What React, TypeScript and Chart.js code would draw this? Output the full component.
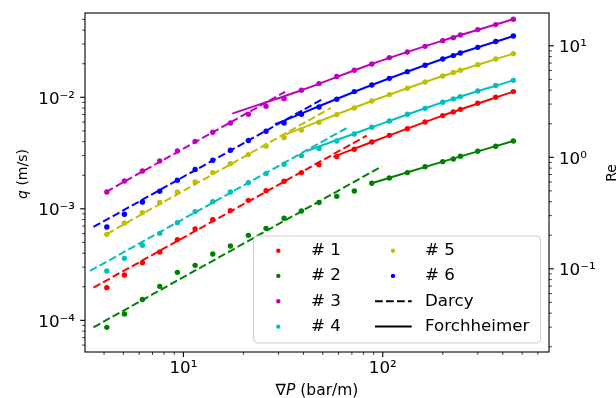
import { useEffect, useRef } from 'react';
import { Chart, registerables } from 'chart.js';
Chart.register(...registerables);

// ---- data ----
const gradP = [4.13, 5.06, 6.23, 7.61, 9.33, 11.45, 14.04, 17.21, 21.18, 25.98, 31.99, 39.07, 47.9, 58.8, 72.0, 88.1, 107.9, 132.9, 163.0, 199.9, 225.9, 245.1, 299.5, 368.7, 451.9];

const q1 = [1.963e-4, 2.547e-4, 3.289e-4, 4.102e-4, 5.297e-4, 6.592e-4, 7.998e-4, 9.638e-4, 1.191e-3, 1.455e-3, 1.766e-3, 2.113e-3, 2.489e-3, 2.938e-3, 3.42e-3, 3.972e-3, 4.56e-3, 5.236e-3, 6.012e-3, 6.855e-3, 7.396e-3, 7.798e-3, 8.831e-3, 1.0e-2, 1.125e-2];
const q2 = [8.65e-5, 1.14e-4, 1.535e-4, 2.018e-4, 2.692e-4, 3.112e-4, 3.936e-4, 4.634e-4, 5.781e-4, 6.683e-4, 8.222e-4, 9.572e-4, 1.138e-3, 1.294e-3, 1.445e-3, 1.694e-3, 1.888e-3, 2.113e-3, 2.388e-3, 2.649e-3, 2.799e-3, 2.958e-3, 3.281e-3, 3.639e-3, 4.055e-3];
const q3 = [1.416e-3, 1.774e-3, 2.183e-3, 2.685e-3, 3.304e-3, 4.027e-3, 4.853e-3, 5.888e-3, 7.047e-3, 8.299e-3, 9.727e-3, 1.156e-2, 1.327e-2, 1.535e-2, 1.746e-2, 1.991e-2, 2.27e-2, 2.547e-2, 2.864e-2, 3.221e-2, 3.428e-2, 3.622e-2, 4.046e-2, 4.487e-2, 5.012e-2];
const q4 = [2.773e-4, 3.597e-4, 4.71e-4, 6.026e-4, 7.516e-4, 9.441e-4, 1.161e-3, 1.416e-3, 1.718e-3, 2.07e-3, 2.506e-3, 2.999e-3, 3.467e-3, 4.055e-3, 4.688e-3, 5.383e-3, 6.124e-3, 7.047e-3, 7.962e-3, 9.016e-3, 9.661e-3, 1.014e-2, 1.138e-2, 1.274e-2, 1.419e-2];
const q5 = [5.902e-4, 7.464e-4, 9.247e-4, 1.138e-3, 1.416e-3, 1.738e-3, 2.113e-3, 2.541e-3, 3.062e-3, 3.656e-3, 4.355e-3, 5.093e-3, 5.97e-3, 6.998e-3, 8.017e-3, 9.268e-3, 1.057e-2, 1.205e-2, 1.371e-2, 1.552e-2, 1.667e-2, 1.746e-2, 1.963e-2, 2.208e-2, 2.466e-2];
const q6 = [6.871e-4, 8.933e-4, 1.151e-3, 1.435e-3, 1.803e-3, 2.249e-3, 2.723e-3, 3.35e-3, 4.093e-3, 4.955e-3, 5.888e-3, 7.047e-3, 8.185e-3, 9.594e-3, 1.125e-2, 1.288e-2, 1.479e-2, 1.698e-2, 1.936e-2, 2.208e-2, 2.366e-2, 2.495e-2, 2.805e-2, 3.162e-2, 3.548e-2];

// Darcy fits (end points)
const darcyX1 = [3.54, 83.1]; const darcyQ1 = [1.963e-4, 4.53e-3];
const darcyX2 = [3.54, 98.9]; const darcyQ2 = [8.65e-5, 2.4e-3];
const darcyX3 = [4.1, 32.4]; const darcyQ3 = [1.42e-3, 1.12e-2];
const darcyX4 = [3.4, 66.0]; const darcyQ4 = [2.77e-4, 5.31e-3];
const darcyX5 = [4.14, 54.8]; const darcyQ5 = [5.97e-4, 8.02e-3];
const darcyX6 = [3.54, 49.4]; const darcyQ6 = [6.87e-4, 9.53e-3];

// Forchheimer fits (points along the curves)
const forchX1 = [56.5, 88.1, 199.9, 451.9]; const forchQ1 = [2.92e-3, 3.972e-3, 6.855e-3, 1.125e-2];
const forchX2 = [88.1, 199.9, 451.9]; const forchQ2 = [1.694e-3, 2.649e-3, 4.055e-3];
const forchX3 = [17.6, 39.07, 88.1, 199.9, 451.9]; const forchQ3 = [7.14e-3, 1.156e-2, 1.991e-2, 3.221e-2, 5.012e-2];
const forchX4 = [41.6, 88.1, 199.9, 451.9]; const forchQ4 = [3.3e-3, 5.383e-3, 9.016e-3, 1.419e-2];
const forchX5 = [32.7, 88.1, 199.9, 451.9]; const forchQ5 = [4.66e-3, 9.268e-3, 1.552e-2, 2.466e-2];
const forchX6 = [28.8, 88.1, 199.9, 451.9]; const forchQ6 = [5.73e-3, 1.288e-2, 2.208e-2, 3.548e-2];

const seriesLabels = ['# 1', '# 2', '# 3', '# 4', '# 5', '# 6'];
const seriesColors = ['#ff0000', '#008000', '#bf00bf', '#00bfbf', '#bfbf00', '#0000ff'];

const X_MIN = 3.21, X_MAX = 682;
const Q_MIN = 5.2e-5, Q_MAX = 0.057;
const RE_MIN = 0.01795, RE_MAX = 19.68;

const FONT = '"DejaVu Sans", sans-serif';
const SUP: Record<string, string> = { '-': '\u207B', '0': '\u2070', '1': '\u00B9', '2': '\u00B2', '3': '\u00B3', '4': '\u2074', '5': '\u2075', '6': '\u2076', '7': '\u2077', '8': '\u2078', '9': '\u2079' };

function isPow10(v: number) {
  const l = Math.log10(v);
  return Math.abs(l - Math.round(l)) < 1e-9;
}
function pow10Label(v: number) {
  if (!isPow10(v)) return '';
  const e = String(Math.round(Math.log10(v)));
  return '10' + e.split('').map((c) => SUP[c]).join('');
}
function logTicks(min: number, max: number) {
  const out: { value: number }[] = [];
  const e0 = Math.floor(Math.log10(min));
  const e1 = Math.ceil(Math.log10(max));
  for (let e = e0; e <= e1; e++) {
    for (let k = 1; k <= 9; k++) {
      const v = Number((k * Math.pow(10, e)).toPrecision(12));
      if (v >= min && v <= max) out.push({ value: v });
    }
  }
  return out;
}

function axisCommon(pad: number, labelOffset: number) {
  return {
    type: 'logarithmic' as const,
    grid: { display: true, drawOnChartArea: false, drawTicks: true, tickLength: 5, color: 'rgba(0,0,0,0)' },
    border: { display: false },
    ticks: {
      autoSkip: false, maxRotation: 0, minRotation: 0, padding: pad, labelOffset,
      color: '#000', font: { family: FONT, size: 16.7 },
      callback: (v: any) => pow10Label(Number(v)),
    },
    afterBuildTicks: (axis: any) => { axis.ticks = logTicks(axis.min, axis.max); },
  };
}

function drawRich(ctx: CanvasRenderingContext2D, segs: { t: string; it?: boolean }[], size: number, x: number, y: number, rotate: boolean) {
  ctx.save();
  ctx.translate(x, y);
  if (rotate) ctx.rotate(-Math.PI / 2);
  ctx.textBaseline = 'alphabetic';
  ctx.textAlign = 'left';
  ctx.fillStyle = '#000';
  const fonts = segs.map((s) => `${s.it ? 'italic ' : ''}${size}px ${FONT}`);
  const widths = segs.map((s, i) => { ctx.font = fonts[i]; return ctx.measureText(s.t).width; });
  const total = widths.reduce((a, b) => a + b, 0);
  let cx = -total / 2;
  segs.forEach((s, i) => { ctx.font = fonts[i]; ctx.fillText(s.t, cx, 0); cx += widths[i]; });
  ctx.restore();
}

const decorPlugin = {
  id: 'decor',
  afterDraw(chart: any) {
    const ctx: CanvasRenderingContext2D = chart.ctx;
    const a = chart.chartArea;
    ctx.save();
    // frame
    ctx.strokeStyle = '#000';
    ctx.lineWidth = 1.1;
    ctx.strokeRect(a.left, a.top, a.right - a.left, a.bottom - a.top);
    // tick marks
    const drawTicks = (scale: any, side: 'bottom' | 'left' | 'right') => {
      for (const t of scale.ticks) {
        const major = isPow10(t.value);
        const len = major ? 4.9 : 2.8;
        ctx.lineWidth = major ? 1.1 : 0.8;
        const p = scale.getPixelForValue(t.value);
        ctx.beginPath();
        if (side === 'bottom') { ctx.moveTo(p, a.bottom); ctx.lineTo(p, a.bottom + len); }
        else if (side === 'left') { ctx.moveTo(a.left, p); ctx.lineTo(a.left - len, p); }
        else { ctx.moveTo(a.right, p); ctx.lineTo(a.right + len, p); }
        ctx.stroke();
      }
    };
    drawTicks(chart.scales.x, 'bottom');
    drawTicks(chart.scales.y, 'left');
    drawTicks(chart.scales.y2, 'right');

    // legend
    const lx = 253.5, ly = 236, lw = 287, lh = 107, r = 4;
    ctx.beginPath();
    ctx.moveTo(lx + r, ly);
    ctx.lineTo(lx + lw - r, ly); ctx.arcTo(lx + lw, ly, lx + lw, ly + r, r);
    ctx.lineTo(lx + lw, ly + lh - r); ctx.arcTo(lx + lw, ly + lh, lx + lw - r, ly + lh, r);
    ctx.lineTo(lx + r, ly + lh); ctx.arcTo(lx, ly + lh, lx, ly + lh - r, r);
    ctx.lineTo(lx, ly + r); ctx.arcTo(lx, ly, lx + r, ly, r);
    ctx.closePath();
    ctx.fillStyle = 'rgba(255,255,255,0.8)';
    ctx.fill();
    ctx.strokeStyle = '#cccccc';
    ctx.lineWidth = 1;
    ctx.stroke();

    const rows = [250.7, 275.9, 301.2, 326.6];
    ctx.font = `16.7px ${FONT}`;
    ctx.textBaseline = 'middle';
    ctx.textAlign = 'left';
    const items: { label: string; color?: string; kind: 'dot' | 'dash' | 'solid' }[] = [
      ...seriesLabels.map((l, i) => ({ label: l, color: seriesColors[i], kind: 'dot' as const })),
      { label: 'Darcy', kind: 'dash' },
      { label: 'Forchheimer', kind: 'solid' },
    ];
    items.forEach((it, i) => {
      const col = i < 4 ? 0 : 1;
      const row = i % 4;
      const mx = col === 0 ? 278.3 : 393;
      const tx = col === 0 ? 311 : 425;
      const y = rows[row];
      if (it.kind === 'dot') {
        ctx.fillStyle = it.color!;
        ctx.beginPath(); ctx.arc(mx, y, 2.2, 0, Math.PI * 2); ctx.fill();
      } else {
        ctx.strokeStyle = '#000';
        ctx.lineWidth = 2;
        ctx.setLineDash(it.kind === 'dash' ? [7.7, 3.3] : []);
        ctx.beginPath(); ctx.moveTo(375, y); ctx.lineTo(411.7, y); ctx.stroke();
        ctx.setLineDash([]);
      }
      ctx.fillStyle = '#000';
      ctx.fillText(it.label, tx, y);
    });

    // axis titles
    drawRich(ctx, [{ t: '\u2207' }, { t: 'P', it: true }, { t: ' (bar/m)' }], 15.5, (a.left + a.right) / 2, 394.5, false);
    drawRich(ctx, [{ t: 'q', it: true }, { t: ' (m/s)' }], 14, 26.5, 174, true);
    drawRich(ctx, [{ t: 'Re' }], 14, 615.5, 173, true);
    ctx.restore();
  },
};

export default function App() {
  const ref = useRef<HTMLCanvasElement>(null);
  useEffect(() => {
    document.body.style.margin = '0';
    const canvas = ref.current!;
    const pts = [q1, q2, q3, q4, q5, q6].map((qs, i) => ({
      label: seriesLabels[i],
      data: gradP.map((x, j) => ({ x, y: qs[j] })),
      showLine: false,
      pointRadius: 2.7,
      pointBorderWidth: 0,
      pointBackgroundColor: seriesColors[i],
      borderColor: seriesColors[i],
      yAxisID: 'y',
    }));
    const darcy = [[darcyX1, darcyQ1], [darcyX2, darcyQ2], [darcyX3, darcyQ3], [darcyX4, darcyQ4], [darcyX5, darcyQ5], [darcyX6, darcyQ6]].map(([xs, qs], i) => ({
      label: 'Darcy ' + seriesLabels[i],
      data: xs.map((x, j) => ({ x, y: qs[j] })),
      showLine: true,
      pointRadius: 0,
      borderColor: seriesColors[i],
      borderWidth: 2,
      borderDash: [7.7, 3.3],
      fill: false,
      yAxisID: 'y',
    }));
    const forch = [[forchX1, forchQ1], [forchX2, forchQ2], [forchX3, forchQ3], [forchX4, forchQ4], [forchX5, forchQ5], [forchX6, forchQ6]].map(([xs, qs], i) => ({
      label: 'Forchheimer ' + seriesLabels[i],
      data: xs.map((x, j) => ({ x, y: qs[j] })),
      showLine: true,
      pointRadius: 0,
      borderColor: seriesColors[i],
      borderWidth: 2,
      cubicInterpolationMode: 'monotone' as const,
      fill: false,
      yAxisID: 'y',
    }));

    const chart = new Chart(canvas, {
      type: 'scatter',
      data: { datasets: [...pts, ...darcy, ...forch] as any },
      options: {
        responsive: false,
        animation: false,
        devicePixelRatio: 1,
        layout: { padding: { top: 13, left: 0, right: 0, bottom: 0 } },
        plugins: { legend: { display: false }, tooltip: { enabled: false } },
        scales: {
          x: {
            ...axisCommon(2, 0), position: 'bottom', min: X_MIN, max: X_MAX,
            afterFit: (s: any) => { s.height = 46; s.paddingLeft = 0; s.paddingRight = 0; },
          },
          y: {
            ...axisCommon(5, 2), position: 'left', min: Q_MIN, max: Q_MAX,
            afterFit: (s: any) => { s.width = 85; s.paddingTop = 0; s.paddingBottom = 0; },
          },
          y2: {
            ...axisCommon(5, 2), position: 'right', min: RE_MIN, max: RE_MAX,
            afterFit: (s: any) => { s.width = 67; s.paddingTop = 0; s.paddingBottom = 0; },
          },
        } as any,
      },
      plugins: [decorPlugin],
    });
    return () => chart.destroy();
  }, []);
  return <canvas ref={ref} width={616} height={398} style={{ display: 'block', width: 616, height: 398 }} />;
}
